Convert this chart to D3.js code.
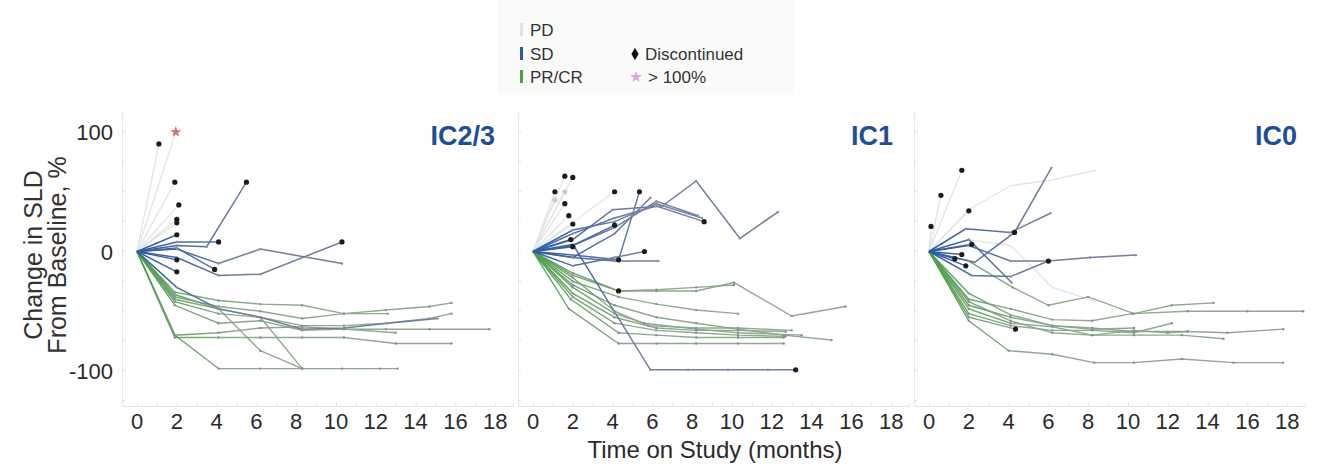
<!DOCTYPE html>
<html>
<head>
<meta charset="utf-8">
<script src="https://cdn.jsdelivr.net/npm/d3@7"></script>
<style>
  html, body { margin: 0; padding: 0; background: #fff; }
  svg { display: block; font-family: "Liberation Sans", Arial, sans-serif; }
</style>
</head>
<body>
<div id="chart"></div>
<script>
// ---- data: change in SLD from baseline (%) vs months on study ----
var panelNames = ["IC2/3", "IC1", "IC0"];
var xTicks = [0, 2, 4, 6, 8, 10, 12, 14, 16, 18];
var yTicks = [100, 0, -100];

// IC2/3
var ic23Pd = [
  [[0,0],[1.1,90]], [[0,0],[1.95,100]], [[0,0],[1.9,58]],
  [[0,0],[2.1,39]], [[0,0],[2.0,27]], [[0,0],[2.0,24]]
];
var ic23Sd = [
  [[0,0],[2,5],[3.5,4],[5.5,58]],
  [[0,0],[2,8],[4.1,8]],
  [[0,0],[2,14]],
  [[0,0],[2,-7]],
  [[0,0],[2,-17]],
  [[0,0],[2,3],[3.9,-15]],
  [[0,0],[2,2],[4.1,-10],[6.2,2],[10.3,-10]],
  [[0,0],[2,-5],[4.1,-20],[6.2,-19],[10.3,8]],
  [[0,0],[2,-30],[4.1,-48],[6.2,-55],[8.3,-65],[10.4,-64],[12.6,-60],[15.1,-56]]
];
var ic23Pr = [
  [[0,0],[1.9,-70],[4.1,-98],[6.2,-98],[8.3,-98],[10.3,-98],[12.2,-98],[13.1,-98]],
  [[0,0],[1.9,-34],[4.1,-41],[6.2,-44],[8.3,-45],[10.4,-52],[12.6,-52]],
  [[0,0],[1.9,-38],[4.1,-46],[6.2,-50],[8.3,-56],[10.4,-52],[12.5,-49],[14.7,-46],[15.8,-43]],
  [[0,0],[1.9,-40],[4.1,-48],[6.2,-55],[8.3,-62],[10.4,-62],[12.5,-60],[14.7,-56],[15.8,-52]],
  [[0,0],[1.9,-70],[4.1,-68],[6.2,-64],[8.3,-63],[10.4,-65],[12.5,-65],[14.7,-65],[17.7,-65]],
  [[0,0],[1.9,-72],[4.1,-72],[6.2,-72],[8.3,-72],[10.4,-72],[13,-77],[15.8,-77]],
  [[0,0],[1.9,-36],[4.1,-48],[6.2,-83],[8.3,-98]],
  [[0,0],[1.9,-42],[4.1,-52],[6.2,-55],[8.3,-98]],
  [[0,0],[1.9,-45],[4.1,-60],[6.2,-58],[8.3,-66],[10.4,-65],[13,-68]]
];
var ic23Disc = [[1.1,90],[1.9,58],[2.1,39],[2.0,27],[2.0,24],[2,14],[5.5,58],[4.1,8],
  [2,-7],[2,-17],[3.9,-15],[10.3,8]];
var ic23Over = [[1.95,100]];
var ic23Faint = [];

// IC1
var ic1Pd = [
  [[0,0],[1.6,63]], [[0,0],[2.0,62]], [[0,0],[1.1,50]], [[0,0],[1.6,40]],
  [[0,0],[1.8,30]], [[0,0],[2.0,23]], [[0,0],[4.1,50]], [[0,0],[1.1,43]], [[0,0],[1.6,50]]
];
var ic1Sd = [
  [[0,0],[2,10],[4,35],[6.5,38],[8.2,59],[10.4,11],[12.3,33]],
  [[0,0],[2,15],[4.1,28],[6.2,38],[8.6,25]],
  [[0,0],[2,5],[4.1,20],[6.2,42],[8.3,30]],
  [[0,0],[2,18],[4.1,25],[6.2,40],[8.5,28]],
  [[0,0],[2,-3],[4.3,-7],[5.35,50]],
  [[0,0],[2,-5],[4.1,15],[5.9,45]],
  [[0,0],[2,6],[5.9,-99],[7.8,-99],[9.8,-99],[11.8,-99],[13.2,-99]],
  [[0,0],[2,-5],[4.1,-8],[6.3,-8]],
  [[0,0],[2,5],[4.1,22]],
  [[0,0],[2,4]],
  [[0,0],[1.9,10]],
  [[0,0],[2,-12],[4.1,-5],[5.6,0]]
];
var ic1Pr = [
  [[0,0],[2,-18],[4.3,-33],[6.2,-33],[8.2,-33],[10.1,-26],[13,-54],[15.7,-46]],
  [[0,0],[2,-20],[4.3,-33],[6.2,-32],[8.2,-30],[10.1,-28]],
  [[0,0],[1.8,-48],[4.3,-77],[6.2,-77],[8.2,-77],[10.3,-77],[12.6,-77]],
  [[0,0],[1.9,-40],[4.3,-68],[6.2,-70],[8.2,-72],[10.3,-72],[12.6,-72]],
  [[0,0],[2,-35],[4.1,-55],[6.2,-64],[8.2,-66],[10.3,-66],[12.7,-67]],
  [[0,0],[2,-30],[4.1,-52],[5.6,-60],[8.2,-65],[10.3,-68],[13.5,-70]],
  [[0,0],[2,-28],[4.1,-45],[6.2,-55],[8.2,-60],[10.3,-65],[12.6,-70],[15,-74]],
  [[0,0],[2,-25],[4.3,-38],[6.2,-44],[8.2,-49],[10.3,-52]],
  [[0,0],[2,-38],[4.1,-60],[6.2,-66],[8.2,-68],[10.3,-70],[12.7,-71]],
  [[0,0],[2,-22],[4.1,-50],[5.8,-62],[8.2,-64],[10.3,-64],[13,-66]]
];
var ic1Disc = [[1.6,63],[2.0,62],[1.1,50],[1.6,40],[1.8,30],[2.0,23],[4.1,50],[5.35,50],
  [4.1,22],[4.3,-7],[5.6,0],[4.3,-33],[8.6,25],[13.2,-99],[1.9,10],[2,4]];
var ic1Over = [];
var ic1Faint = [[1.1,43],[1.6,50]];

// IC0
var ic0Pd = [
  [[0,0],[0.1,21]], [[0,0],[0.6,47]], [[0,0],[1.65,68]], [[0,0],[2.0,34]],
  [[0,0],[2,35],[4.1,55],[6.2,60],[8.4,68]],
  [[0,0],[2,10],[4.1,5],[6.2,-30],[8.4,-42]]
];
var ic0Sd = [
  [[0,0],[2.3,-9],[4.3,16],[6.15,70]],
  [[0,0],[1.85,19],[4.1,16],[6.1,32]],
  [[0,0],[2,5],[4.1,-8],[6,-8],[8.1,-5],[10.4,-3]],
  [[0,0],[2.15,-20],[4.1,-21],[6,-8]],
  [[0,0],[2,10],[4.15,-26]],
  [[0,0],[2.15,6]],
  [[0,0],[1.65,-2.5]],
  [[0,0],[1.3,-6]],
  [[0,0],[1.85,-12]]
];
var ic0Pr = [
  [[0,0],[2,-58],[4,-83],[6.2,-86],[8.3,-93],[10.3,-93],[12.7,-90],[15.3,-93],[17.8,-93]],
  [[0,0],[2,-8],[4.2,-30],[6,-45],[8,-38],[10.3,-52],[12.2,-45],[14.3,-43]],
  [[0,0],[2,-40],[4.1,-48],[6.2,-57],[8.2,-58],[10.2,-52],[13,-50],[16,-50],[18.8,-50]],
  [[0,0],[2,-45],[4.1,-55],[6.2,-62],[8.2,-64],[10.3,-67],[13,-67],[15,-68],[17.8,-65]],
  [[0,0],[2,-55],[4.35,-65]],
  [[0,0],[2,-52],[4.1,-62],[6.2,-66],[8.2,-66],[10.3,-68],[12.2,-60]],
  [[0,0],[2,-48],[4.1,-60],[6.2,-63],[8.2,-70],[10.3,-66],[12,-68],[13,-67]],
  [[0,0],[2,-42],[4.1,-58],[6.2,-68],[8.2,-70],[10.3,-70],[12.7,-70],[14.8,-73]],
  [[0,0],[2,-35],[4.1,-53],[6.2,-62],[8.2,-65],[10.3,-64]]
];
var ic0Disc = [[0.1,21],[0.6,47],[1.65,68],[2.0,34],[4.3,16],[2.15,6],[1.65,-2.5],
  [1.3,-6],[1.85,-12],[6,-8],[4.35,-65]];
var ic0Over = [];
var ic0Faint = [];

var panels = [
  { pd: ic23Pd, sd: ic23Sd, pr: ic23Pr, disc: ic23Disc, over: ic23Over, faint: ic23Faint },
  { pd: ic1Pd,  sd: ic1Sd,  pr: ic1Pr,  disc: ic1Disc,  over: ic1Over,  faint: ic1Faint },
  { pd: ic0Pd,  sd: ic0Sd,  pr: ic0Pr,  disc: ic0Disc,  over: ic0Over,  faint: ic0Faint }
];

// ---- layout ----
var W = 1319, H = 474;
var origins = [137, 533, 929];      // pixel x of month 0 in each panel
var pxPerMonth = 19.9;
var xMin = -0.75, xMax = 18.9;
var yTop = 113, yBot = 406;

var colors = {
  pd: "#e1e4e8",
  sdStart: "#2c5aa6", sdEnd: "#707f9b",
  prStart: "#4c9e4a", prEnd: "#8aa489"
};

var svg = d3.select("#chart").append("svg")
  .attr("width", W).attr("height", H);

var defs = svg.append("defs");

// legend
var legend = svg.append("g");
legend.append("rect")
  .attr("x", 497).attr("y", 0).attr("width", 298).attr("height", 95)
  .attr("fill", "#fafbf8");
var legItems = [
  { label: "PD", color: "#dde3ea", y: 30 },
  { label: "SD", color: colors.sdStart, y: 54 },
  { label: "PR/CR", color: colors.prStart, y: 77 }
];
legItems.forEach(function(d) {
  legend.append("rect").attr("x", 520).attr("y", d.y - 7).attr("width", 3).attr("height", 13)
    .attr("fill", d.color);
  legend.append("text").attr("x", 530).attr("y", d.y + 6).text(d.label)
    .attr("font-size", 17).attr("fill", "#333");
});
legend.append("path")
  .attr("d", d3.symbol().type(d3.symbolDiamond).size(45)())
  .attr("transform", "translate(635,54)").attr("fill", "#111");
legend.append("text").attr("x", 645).attr("y", 60).text("Discontinued")
  .attr("font-size", 17).attr("fill", "#333");
legend.append("path")
  .attr("d", d3.symbol().type(d3.symbolStar).size(45)())
  .attr("transform", "translate(636,77)").attr("fill", "#dba6dc");
legend.append("text").attr("x", 648).attr("y", 83).text("> 100%")
  .attr("font-size", 17).attr("fill", "#333");

var y = d3.scaleLinear().domain([-100, 100]).range([371, 132]);

panels.forEach(function(p, i) {
  var x0 = origins[i];
  var x = d3.scaleLinear()
    .domain([xMin, xMax])
    .range([x0 + xMin * pxPerMonth, x0 + xMax * pxPerMonth]);

  var g = svg.append("g");

  // gradients: saturated near baseline, fading toward a muted tone
  ["sd", "pr"].forEach(function(k) {
    var grad = defs.append("linearGradient")
      .attr("id", "grad-" + k + i)
      .attr("gradientUnits", "userSpaceOnUse")
      .attr("x1", x(0)).attr("x2", x(5)).attr("y1", 0).attr("y2", 0);
    grad.append("stop").attr("offset", 0).attr("stop-color", colors[k + "Start"]);
    grad.append("stop").attr("offset", 1).attr("stop-color", colors[k + "End"]);
  });

  // axes
  var xAxis = d3.axisBottom(x).tickValues(d3.range(0, 19, 1)).tickSize(-3).tickFormat("");
  var xg = g.append("g").attr("transform", "translate(0," + yBot + ")").call(xAxis);
  xg.select(".domain").attr("stroke", "#e4e6e4");
  xg.selectAll("line").attr("stroke", "#dcdedc");

  var yAxisScale = d3.scaleLinear().domain([-130, 115]).range([yBot, yTop]);
  var yAxis = d3.axisLeft(yAxisScale).tickValues(d3.range(-125, 115, 25)).tickSize(-3).tickFormat("");
  var yg = g.append("g").attr("transform", "translate(" + x(xMin) + ",0)").call(yAxis);
  yg.select(".domain").attr("stroke", "#e4e6e4");
  yg.selectAll("line").attr("stroke", "#dcdedc");

  g.selectAll(".xlab").data(xTicks).enter().append("text")
    .attr("x", function(d) { return x(d); })
    .attr("y", 429)
    .attr("text-anchor", "middle")
    .attr("font-size", 22).attr("fill", "#2a2a2a")
    .text(function(d) { return d; });

  if (i === 0) {
    g.selectAll(".ylab").data(yTicks).enter().append("text")
      .attr("x", 113)
      .attr("y", function(d) { return y(d) + 8; })
      .attr("text-anchor", "end")
      .attr("font-size", 22).attr("fill", "#2a2a2a")
      .text(function(d) { return d; });
  }

  g.append("text")
    .attr("x", [495, 893, 1297][i]).attr("y", 145)
    .attr("text-anchor", "end")
    .attr("font-size", 27).attr("font-weight", "bold").attr("fill", "#1f4f93")
    .text(panelNames[i]);

  var line = d3.line().x(function(d) { return x(d[0]); }).y(function(d) { return y(d[1]); });

  g.selectAll(".pd").data(p.pd).enter().append("path")
    .attr("d", line).attr("fill", "none")
    .attr("stroke", colors.pd).attr("stroke-width", 1.3);
  g.selectAll(".pr").data(p.pr).enter().append("path")
    .attr("d", line).attr("fill", "none")
    .attr("stroke", "url(#grad-pr" + i + ")").attr("stroke-width", 1.4).attr("stroke-opacity", 0.95);
  g.selectAll(".sd").data(p.sd).enter().append("path")
    .attr("d", line).attr("fill", "none")
    .attr("stroke", "url(#grad-sd" + i + ")").attr("stroke-width", 1.5);

  // small assessment markers
  var pts = [];
  p.sd.concat(p.pr).forEach(function(l) { l.slice(1).forEach(function(d) { pts.push(d); }); });
  g.selectAll(".pt").data(pts).enter().append("circle")
    .attr("cx", function(d) { return x(d[0]); })
    .attr("cy", function(d) { return y(d[1]); })
    .attr("r", 1.2).attr("fill", "#8a8f96");

  g.selectAll(".faint").data(p.faint).enter().append("circle")
    .attr("cx", function(d) { return x(d[0]); })
    .attr("cy", function(d) { return y(d[1]); })
    .attr("r", 2.6).attr("fill", "#c9cbd0");

  g.selectAll(".disc").data(p.disc).enter().append("circle")
    .attr("cx", function(d) { return x(d[0]); })
    .attr("cy", function(d) { return y(d[1]); })
    .attr("r", 2.6).attr("fill", "#1c1c1c");

  g.selectAll(".over").data(p.over).enter().append("path")
    .attr("d", d3.symbol().type(d3.symbolStar).size(40)())
    .attr("transform", function(d) { return "translate(" + x(d[0]) + "," + y(d[1]) + ")"; })
    .attr("fill", "#e06a70");
});

// axis titles
svg.append("text")
  .attr("transform", "translate(42,255) rotate(-90)")
  .attr("text-anchor", "middle").attr("font-size", 25).attr("fill", "#333")
  .text("Change in SLD");
svg.append("text")
  .attr("transform", "translate(66,255) rotate(-90)")
  .attr("text-anchor", "middle").attr("font-size", 25).attr("fill", "#333")
  .text("From Baseline, %");
svg.append("text")
  .attr("x", 715).attr("y", 458)
  .attr("text-anchor", "middle").attr("font-size", 24).attr("fill", "#2a2a2a")
  .text("Time on Study (months)");
</script>
</body>
</html>
